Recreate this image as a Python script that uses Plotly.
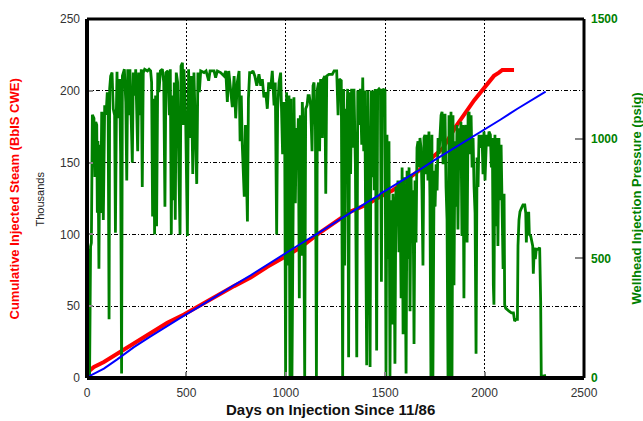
import plotly.graph_objects as go

# Cumulative injected steam (thousand bbl CWE)
steam_days = [5, 35, 85, 152, 236, 320, 404, 488, 573, 656, 740, 823, 907, 991,
              1075, 1159, 1243, 1326, 1410, 1469, 1536, 1595, 1670, 1720, 1790,
              1855, 1880, 1913, 1947, 1980, 2005, 2031, 2047, 2072, 2089, 2148]
steam_vals = [4.3, 7.7, 11.1, 16.9, 24.5, 31.5, 38.5, 44.2, 51.0, 57.8, 64.0, 69.9,
              77.5, 84.0, 91.0, 100.0, 108.0, 115.9, 121.0, 125.9, 130.5, 137.0,
              144.5, 151.5, 160.0, 175.0, 179.6, 186.5, 193.3, 199.0, 202.4, 208.0,
              210.4, 212.7, 214.5, 214.5]

# Reference (trend) cumulative line
trend_days = [0, 85, 152, 236, 320, 404, 488, 573, 656, 740, 823, 907, 991, 1075,
              1159, 1243, 1326, 1410, 1469, 1480, 1502, 1595, 1662, 1746, 1829,
              1913, 1997, 2081, 2165, 2249, 2307]
trend_vals = [0.5, 6.6, 13.0, 21.5, 29.0, 36.5, 43.5, 50.4, 57.8, 64.7, 71.5, 79.0,
              86.3, 93.5, 100.5, 108.0, 115.5, 122.5, 127.3, 128.8, 130.5, 138.0,
              144.0, 151.5, 158.5, 165.5, 172.5, 180.0, 187.5, 194.5, 199.4]

# Wellhead injection pressure (psig)
pressure_days = [
    0, 2, 5, 8, 13, 18, 22, 27, 35, 40, 44, 49, 52, 55, 60, 64, 69, 74, 79, 82,
    89, 96, 102, 106, 111, 114, 119, 126, 132, 139, 143, 148, 151, 154, 159, 164,
    169, 174, 178, 183, 188, 195, 200, 205, 211, 216, 223, 228, 233, 240, 245, 250,
    255, 260, 267, 273, 278, 283, 290, 304, 312, 320, 325, 330, 335, 340, 345, 350,
    356, 362, 369, 379, 386, 392, 397, 407, 414, 419, 424, 429, 434, 439, 444, 449,
    456, 463, 468, 473, 480, 485,
    488, 496, 505, 511, 518, 525, 532, 538, 545, 552, 558, 565, 572, 589, 599, 612,
    619, 639, 647, 656, 672, 689, 698, 706, 713, 723, 731, 740, 748, 756, 765, 770,
    776, 781, 786, 791, 797, 802, 807, 812, 818, 828, 835, 844, 854, 865, 874, 882,
    890, 899, 907, 914, 924, 932, 941, 947, 954, 959, 966, 974, 984, 991,
    994, 999, 1004, 1011, 1016, 1021, 1026, 1031, 1036, 1041, 1048, 1053, 1058,
    1063, 1068, 1073, 1078, 1083, 1088, 1095, 1100, 1107, 1112, 1118, 1125, 1132,
    1137, 1142, 1149, 1154, 1159, 1165, 1170, 1175, 1184, 1189, 1196, 1201, 1206,
    1217, 1234, 1243, 1256, 1263, 1269, 1279, 1286, 1291, 1296, 1301, 1306, 1311,
    1316, 1321, 1326, 1331, 1338, 1343, 1350, 1357, 1362, 1368, 1375, 1382, 1387,
    1392, 1397, 1402, 1407, 1412, 1417, 1424, 1429, 1435, 1440, 1445, 1450, 1457,
    1462, 1469, 1476, 1481, 1486, 1494,
    1499, 1504, 1509, 1514, 1519, 1524, 1529, 1534, 1539, 1544, 1549, 1554, 1559,
    1564, 1569, 1574, 1580, 1585, 1590, 1595, 1600, 1605, 1610, 1615, 1620, 1625,
    1630, 1635, 1640, 1645, 1650, 1655, 1660, 1665, 1670, 1675, 1680, 1685, 1690,
    1695, 1700, 1705, 1710, 1715, 1720, 1725, 1730, 1735, 1740, 1746, 1751, 1756,
    1761, 1766, 1771, 1776, 1781, 1786, 1791, 1796, 1801, 1806, 1811, 1816, 1821,
    1826, 1831, 1836, 1841, 1846, 1851, 1856, 1861, 1866, 1871, 1876, 1881, 1886,
    1891, 1896, 1901, 1906, 1912, 1917, 1922, 1927, 1932, 1937, 1942, 1947, 1952,
    1957, 1962, 1967, 1972, 1977, 1982, 1987, 1992,
    1997, 2002, 2010, 2017, 2022, 2029, 2034, 2039, 2044, 2047, 2052, 2057, 2062,
    2067, 2072, 2077, 2083, 2088, 2093, 2098, 2101, 2106, 2114, 2123, 2135, 2145,
    2151, 2158, 2165, 2168, 2173, 2178, 2185, 2193, 2202, 2207, 2210, 2215, 2222,
    2225, 2232, 2237, 2242, 2245, 2250, 2255, 2260, 2270, 2277, 2282, 2285, 2295,
    2309,
]
pressure_psig = [
    0, 470, 360, 540, 5, 550, 565, 1100, 1085, 840, 1070, 1057, 690, 990, 456, 975,
    690, 1112, 1070, 660, 1140, 1100, 1194, 1180, 245, 1208, 1262, 1276, 1125, 1098,
    607, 1125, 1280, 1085, 1235, 1249, 935, 19, 1262, 1276, 1290, 1153, 825, 1290,
    1098, 1290, 1085, 900, 1276, 1180, 1290, 1153, 948, 1276, 1098, 1290, 798, 1276,
    1290, 1283, 1290, 1283, 1235, 675, 1167, 600, 1180, 634, 1276, 1194, 1283, 1290,
    1235, 716, 1276, 1283, 1098, 1290, 600, 1180, 743, 1235, 661, 1276, 1235, 825,
    600, 1303, 1317, 1057,
    1290, 1098, 593, 1290, 1003, 1262, 852, 1276, 975, 811, 1276, 1194, 1283, 1276,
    1283, 1242, 1283, 1283, 1255, 1283, 1276, 1262, 1283, 1153, 1283, 1208, 1132,
    1262, 1085, 1235, 1283, 989, 1180, 975, 880, 757, 1057, 880, 654, 1167, 1276,
    1276, 1283, 1262, 1221, 1269, 1221, 1249, 1173, 1194, 1125, 1235, 1208, 1283,
    1139, 1235, 600, 1125, 1235, 1276, 935, 1153,
    1125, 5, 1194, 470, 1180, 5, 1167, 5, 935, 1173, 730, 1044, 907, 1085, 333, 1098,
    511, 1153, 1044, 5, 1125, 1139, 1180, 1180, 1139, 948, 1221, 1235, 1044, 5, 1208,
    1235, 948, 1249, 1003, 1249, 1262, 770, 1262, 1269, 1269, 1283, 1283, 1098, 1249,
    1242, 5, 1208, 470, 1125, 989, 1208, 87, 1194, 852, 1208, 962, 1208, 893, 87,
    1201, 1057, 1208, 975, 1255, 948, 1201, 552, 53, 1201, 852, 46, 1201, 839, 1201,
    784, 1208, 115, 1201, 1208, 1201, 402, 1208, 1201,
    1208, 5, 1016, 497, 989, 5, 743, 224, 770, 634, 60, 798, 634, 825, 525, 825, 333,
    880, 183, 839, 552, 19, 866, 497, 880, 279, 852, 579, 784, 142, 825, 566, 962,
    989, 880, 1003, 962, 784, 470, 1003, 1016, 852, 1016, 825, 1030, 757, 5, 1016, 5,
    866, 716, 893, 784, 1003, 935, 1016, 1098, 1112, 893, 1098, 1098, 798, 661, 5,
    1098, 5, 1112, 5, 1098, 388, 989, 716, 1057, 620, 1044, 948, 1071, 593, 1057, 333,
    1030, 1057, 566, 1098, 1112, 935, 1098, 880, 1003, 798, 689, 101, 921, 798, 1016,
    989, 962, 1016, 852,
    1030, 825, 1016, 968, 1030, 1016, 880, 1003, 388, 306, 1016, 634, 1003, 552, 1003,
    743, 975, 770, 456, 770, 306, 292, 285, 279, 272, 272, 238, 245, 245, 552, 661,
    695, 709, 723, 723, 689, 566, 689, 689, 600, 593, 566, 552, 436, 545, 497, 538,
    538, 545, 320, 5, 8, 11,
]

x_ticks = [0, 500, 1000, 1500, 2000, 2500]
steam_ticks = [0, 50, 100, 150, 200, 250]
pressure_ticks = [0, 500, 1000, 1500]

FONT = "Liberation Sans, Arial, sans-serif"
RED = "#ff0000"
GREEN = "#008000"
BLUE = "#0000ff"

fig = go.Figure()

fig.add_trace(go.Scatter(x=steam_days, y=steam_vals, mode="lines",
                         line=dict(color=RED, width=4), yaxis="y",
                         name="Cumulative steam", hoverinfo="x+y"))
fig.add_trace(go.Scatter(x=pressure_days, y=pressure_psig, mode="lines",
                         line=dict(color=GREEN, width=2.8), yaxis="y2",
                         name="Wellhead pressure", hoverinfo="x+y"))
fig.add_trace(go.Scatter(x=trend_days, y=trend_vals, mode="lines",
                         line=dict(color=BLUE, width=2), yaxis="y3",
                         name="Trend", hoverinfo="x+y"))

fig.update_layout(
    width=643, height=421,
    margin=dict(l=87, r=59, t=12, b=43),
    paper_bgcolor="white", plot_bgcolor="white",
    showlegend=False,
    font=dict(family=FONT, size=12, color="#333333"),
    xaxis=dict(
        range=[0, 2500], tickvals=x_ticks, ticks="inside", ticklen=6,
        tickcolor="#888888", tickwidth=2, showline=False, zeroline=False,
        showgrid=True, gridcolor="black", gridwidth=1, griddash="2px,2px",
        tickfont=dict(family=FONT, size=12, color="#333333"),
        ticklabelstandoff=6,
    ),
    yaxis=dict(
        range=[0, 250], tickvals=steam_ticks, ticks="inside", ticklen=6,
        tickcolor="#888888", tickwidth=2, showline=False, zeroline=False,
        showgrid=True, gridcolor="black", gridwidth=1,
        griddash="4px,2px,1px,2px",
        tickfont=dict(family=FONT, size=12, color="#333333"),
        ticklabelstandoff=6,
    ),
    yaxis2=dict(
        range=[0, 1500], tickvals=pressure_ticks, overlaying="y", side="right",
        ticks="inside", ticklen=9, tickcolor="#888888", tickwidth=2,
        showline=False, zeroline=False, showgrid=False,
        tickfont=dict(family=FONT, size=12, color=GREEN, weight="bold"),
        ticklabelstandoff=6,
    ),
    yaxis3=dict(range=[0, 250], overlaying="y", visible=False),
)

# Plot frame: heavier left and bottom edges
frame = [
    dict(x0=0, x1=0, y0=0, y1=1, w=4),
    dict(x0=0, x1=1, y0=0, y1=0, w=4),
    dict(x0=0, x1=1, y0=1, y1=1, w=3),
    dict(x0=1, x1=1, y0=0, y1=1, w=3),
]
for s in frame:
    fig.add_shape(type="line", xref="paper", yref="paper",
                  x0=s["x0"], x1=s["x1"], y0=s["y0"], y1=s["y1"],
                  line=dict(color="black", width=s["w"]))

fig.add_annotation(text="Cumulative Injected Steam (BbIS CWE)", textangle=-90,
                   xref="paper", yref="paper", x=-0.1449, y=0.5,
                   xanchor="center", yanchor="middle", showarrow=False,
                   font=dict(family=FONT, size=13, color=RED, weight="bold"))
fig.add_annotation(text="Thousands", textangle=-90,
                   xref="paper", yref="paper", x=-0.0946, y=0.5,
                   xanchor="center", yanchor="middle", showarrow=False,
                   font=dict(family=FONT, size=11, color="#222222"))
fig.add_annotation(text="Wellhead Injection Pressure (psig)", textangle=-90,
                   xref="paper", yref="paper", x=1.1066, y=0.5,
                   xanchor="center", yanchor="middle", showarrow=False,
                   font=dict(family=FONT, size=13, color=GREEN, weight="bold"))
fig.add_annotation(text="Days on Injection Since 11/86",
                   xref="paper", yref="paper", x=0.489, y=-0.0874,
                   xanchor="center", yanchor="middle", showarrow=False,
                   font=dict(family=FONT, size=15, color="#111111", weight="bold"))

fig.write_html("out.html")
